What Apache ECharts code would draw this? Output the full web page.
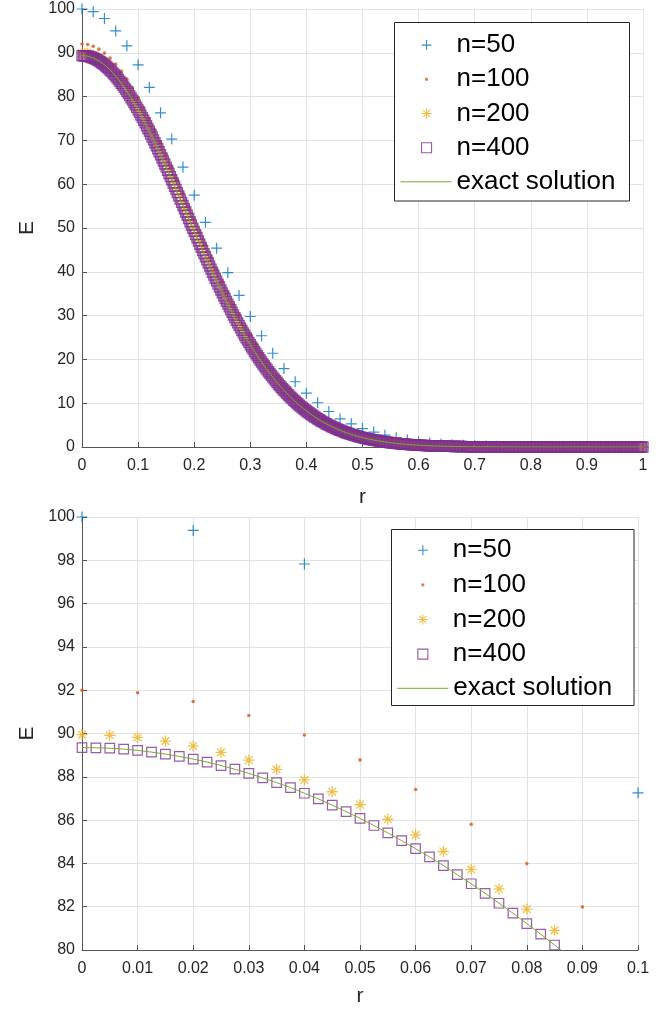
<!DOCTYPE html>
<html><head><meta charset="utf-8">
<script src="https://cdn.jsdelivr.net/npm/echarts@6/dist/echarts.min.js"></script>
<style>html,body{margin:0;padding:0;background:#fff}#c{width:668px;height:1011px}</style>
</head><body><div id="c"></div>
<script>
// grid spacing of each solution (r = i * step)
const n50Step = 0.02, n100Step = 0.01, n200Step = 0.005, n400Step = 0.0025;

const n50E = [
100.0,99.38,97.83,95.0,91.6,87.26,82.1,76.3,70.3,63.9,
57.5,51.3,45.4,39.8,34.6,29.8,25.4,21.4,17.9,14.9,
12.3,10.1,8.1,6.4,5.3,4.2,3.4,2.7,2.1,1.6,
1.2,0.9,0.7,0.5,0.4,0.3,0.2,0.15,0.1,0.08,
0.05,0.03,0.02,0.02,0.01,0.01,0.01,0,0,0,0];

const n100E = [
92.00,91.88,91.48,90.83,89.93,88.78,87.41,85.81,83.99,81.99,
79.80,77.43,74.94,72.32,69.59,66.78,63.89,60.96,57.99,55.02,
52.05,49.10,46.19,43.33,40.52,37.79,35.15,32.60,30.15,27.78,
25.54,23.42,21.41,19.52,17.75,16.09,14.53,13.10,11.77,10.56,
9.43,8.40,7.46,6.62,5.85,5.16,4.52,3.97,3.46,3.01,
2.62,2.27,1.96,1.69,1.45,1.24,1.05,0.90,0.76,0.65,
0.55,0.46,0.39,0.32,0.27,0.22,0.19,0.15,0.13,0.10,
0.09,0.07,0.06,0.05,0.04,0.04,0.03,0.03,0.02,0.02,
0.02,0.01,0.01,0.01,0.01,0.01,0.01,0.01,0.01,0.01,
0,0,0,0,0,0,0,0,0,0,0];

const n200E = [
89.95,89.92,89.82,89.65,89.42,89.13,88.77,88.34,87.86,87.31,
86.71,86.04,85.32,84.55,83.72,82.82,81.89,80.91,79.88,78.79,
77.69,76.52,75.32,74.09,72.83,71.53,70.21,68.85,67.48,66.09,
64.68,63.25,61.81,60.36,58.90,57.42,55.95,54.47,53.00,51.52,
50.05,48.59,47.13,45.69,44.26,42.84,41.43,40.05,38.67,37.32,
35.99,34.68,33.41,32.15,30.91,29.70,28.51,27.35,26.22,25.13,
24.05,23.01,22.00,21.01,20.06,19.13,18.23,17.37,16.53,15.71,
14.94,14.18,13.46,12.76,12.10,11.45,10.83,10.25,9.68,9.14,
8.62,8.13,7.65,7.21,6.77,6.37,5.99,5.61,5.27,4.94,
4.63,4.33,4.04,3.78,3.53,3.29,3.07,2.86,2.66,2.48,
2.30,2.15,1.99,1.84,1.71,1.59,1.47,1.35,1.26,1.16,
1.06,0.99,0.90,0.84,0.77,0.71,0.65,0.59,0.55,0.51,
0.46,0.42,0.39,0.36,0.32,0.29,0.27,0.25,0.23,0.20,
0.18,0.17,0.16,0.14,0.13,0.11,0.10,0.09,0.08,0.08,
0.07,0.06,0.06,0.05,0.05,0.05,0.04,0.04,0.04,0.03,
0.03,0.03,0.03,0.02,0.02,0.02,0.02,0.02,0.02,0.01,
0.01,0.01,0.01,0.01,0.01,0.01,0.01,0.01,0.01,0.01,
0,0,0,0,0,0,0,0,0,0,
0,0,0,0,0,0,0,0,0,0,
0,0,0,0,0,0,0,0,0,0,
0];

const n400E = [
89.35,89.34,89.32,89.28,89.22,89.14,89.05,88.94,88.82,88.68,
88.52,88.35,88.16,87.95,87.73,87.50,87.24,86.98,86.69,86.39,
86.08,85.75,85.41,85.05,84.68,84.30,83.90,83.48,83.06,82.62,
82.16,81.70,81.22,80.73,80.23,79.72,79.19,78.65,78.10,77.54,
76.98,76.40,75.81,75.21,74.60,73.99,73.36,72.73,72.09,71.44,
70.78,70.12,69.45,68.78,68.09,67.41,66.71,66.01,65.31,64.60,
63.89,63.17,62.45,61.73,61.00,60.28,59.54,58.81,58.08,57.34,
56.60,55.86,55.12,54.38,53.64,52.90,52.17,51.43,50.69,49.95,
49.22,48.49,47.76,47.03,46.30,45.58,44.86,44.14,43.43,42.72,
42.01,41.31,40.61,39.91,39.23,38.54,37.86,37.19,36.52,35.85,
35.19,34.54,33.89,33.25,32.62,31.99,31.37,30.75,30.14,29.54,
28.94,28.35,27.77,27.19,26.62,26.06,25.50,24.96,24.42,23.88,
23.36,22.84,22.33,21.82,21.33,20.84,20.36,19.88,19.42,18.96,
18.50,18.06,17.62,17.19,16.77,16.36,15.95,15.55,15.15,14.77,
14.39,14.02,13.65,13.29,12.94,12.60,12.26,11.93,11.61,11.29,
10.98,10.68,10.38,10.09,9.81,9.53,9.26,8.99,8.73,8.48,
8.23,7.98,7.75,7.52,7.29,7.07,6.86,6.65,6.44,6.24,
6.05,5.86,5.68,5.50,5.32,5.15,4.99,4.82,4.67,4.51,
4.37,4.22,4.08,3.94,3.81,3.68,3.56,3.44,3.32,3.20,
3.09,2.99,2.88,2.78,2.68,2.59,2.49,2.40,2.32,2.23,
2.15,2.07,2.00,1.92,1.85,1.78,1.71,1.65,1.59,1.53,
1.47,1.41,1.36,1.30,1.25,1.20,1.16,1.11,1.07,1.02,
0.98,0.94,0.91,0.87,0.83,0.80,0.77,0.73,0.70,0.67,
0.65,0.62,0.59,0.57,0.54,0.52,0.50,0.48,0.46,0.44,
0.42,0.40,0.38,0.36,0.35,0.33,0.32,0.30,0.29,0.28,
0.26,0.25,0.24,0.23,0.22,0.21,0.20,0.19,0.18,0.17,
0.16,0.16,0.15,0.14,0.14,0.13,0.12,0.12,0.11,0.11,
0.10,0.10,0.09,0.09,0.08,0.08,0.07,0.07,0.07,0.06,
0.06,0.06,0.06,0.05,0.05,0.05,0.05,0.04,0.04,0.04,
0.04,0.03,0.03,0.03,0.03,0.03,0.03,0.02,0.02,0.02,
0.02,0.02,0.02,0.02,0.02,0.01,0.01,0.01,0.01,0.01,
0.01,0.01,0.01,0.01,0.01,0.01,0.01,0.01,0.01,0.01,
0.01,0.01,0.01,0.01,0.01,0.01,0.01,0.01,0.01,0.01,
0,0,0,0,0,0,0,0,0,0,
0,0,0,0,0,0,0,0,0,0,
0,0,0,0,0,0,0,0,0,0,
0,0,0,0,0,0,0,0,0,0,
0,0,0,0,0,0,0,0,0,0,
0,0,0,0,0,0,0,0,0,0,
0,0,0,0,0,0,0,0,0,0,
0];
// the exact solution curve, sampled on the finest grid
const exactE = n400E;

// tick labels
const topXTicks = [0,0.1,0.2,0.3,0.4,0.5,0.6,0.7,0.8,0.9,1];
const topYTicks = [0,10,20,30,40,50,60,70,80,90,100];
const botXTicks = [0,0.01,0.02,0.03,0.04,0.05,0.06,0.07,0.08,0.09,0.1];
const botYTicks = [80,82,84,86,88,90,92,94,96,98,100];

const names = ['n=50','n=100','n=200','n=400','exact solution'];
const colors = ['#0072BD','#D95319','#EDB120','#7E2F8E','#77AC30'];

const pts = (arr, step) => arr.map((v, i) => [+(i * step).toFixed(5), v]);
const inBottom = p => p[0] <= botXTicks[botXTicks.length-1] + 1e-9 && p[1] >= botYTicks[0] - 1e-9;

const plusPath = 'path://M0,5L10,5M5,0L5,10';
const starPath = 'path://M0,5L10,5M5,0L5,10M1.46,1.46L8.54,8.54M1.46,8.54L8.54,1.46';
const dotIcon = 'path://M0,0M10,10M3.6,3.6L6.4,3.6L6.4,6.4L3.6,6.4Z';
const lineIcon = 'path://M0,0M51,14M0,7L51,7';

const FONT = 'Liberation Sans';
const axisColor = '#555555';
const labelColor = '#262626';
const gridColor = '#e3e3e3';

function xAxisOf(idx, ticks, gap) {
  return {
    gridIndex: idx, type: 'value',
    min: ticks[0], max: ticks[ticks.length-1], interval: +(ticks[1]-ticks[0]).toFixed(5),
    name: 'r', nameLocation: 'middle', nameGap: gap,
    nameTextStyle: {fontFamily: FONT, fontSize: 21, color: labelColor},
    axisLine: {show: true, onZero: false, lineStyle: {color: axisColor, width: 1}},
    axisTick: {show: true, inside: true, length: 5, lineStyle: {color: axisColor}},
    axisLabel: {fontFamily: FONT, fontSize: 16, color: labelColor, margin: 11},
    splitLine: {show: true, lineStyle: {color: gridColor, width: 1}}
  };
}
function yAxisOf(idx, ticks) {
  return {
    gridIndex: idx, type: 'value',
    min: ticks[0], max: ticks[ticks.length-1], interval: ticks[1]-ticks[0],
    name: 'E', nameLocation: 'middle', nameGap: 44, nameRotate: 90,
    nameTextStyle: {fontFamily: FONT, fontSize: 21, color: labelColor},
    axisLine: {show: true, onZero: false, lineStyle: {color: axisColor, width: 1}},
    axisTick: {show: true, inside: true, length: 5, lineStyle: {color: axisColor}},
    axisLabel: {fontFamily: FONT, fontSize: 16, color: labelColor, margin: 7},
    splitLine: {show: true, lineStyle: {color: gridColor, width: 1}}
  };
}

function seriesFor(idx, filterFn, sqSize, sqWidth) {
  const f = filterFn || (() => true);
  return [
    {name: names[0], type: 'scatter', xAxisIndex: idx, yAxisIndex: idx, clip: false,
     symbol: plusPath, symbolSize: 11,
     itemStyle: {color: 'transparent', borderColor: colors[0], borderWidth: 1.2},
     data: pts(n50E, n50Step).filter(f)},
    {name: names[1], type: 'scatter', xAxisIndex: idx, yAxisIndex: idx, clip: false,
     symbol: 'circle', symbolSize: 3.6,
     itemStyle: {color: colors[1]},
     data: pts(n100E, n100Step).filter(f)},
    {name: names[2], type: 'scatter', xAxisIndex: idx, yAxisIndex: idx, clip: false,
     symbol: starPath, symbolSize: 11,
     itemStyle: {color: 'transparent', borderColor: colors[2], borderWidth: 1.3},
     data: pts(n200E, n200Step).filter(f)},
    {name: names[3], type: 'scatter', xAxisIndex: idx, yAxisIndex: idx, clip: false,
     symbol: 'rect', symbolSize: sqSize,
     itemStyle: {color: 'transparent', borderColor: colors[3], borderWidth: sqWidth},
     data: pts(n400E, n400Step).filter(f)},
    {name: names[4], type: 'line', xAxisIndex: idx, yAxisIndex: idx, clip: true,
     symbol: 'none', showSymbol: false,
     lineStyle: {color: colors[4], width: 1},
     itemStyle: {color: colors[4]},
     data: pts(exactE, n400Step).filter(p => !filterFn || p[0] <= botXTicks[botXTicks.length-1] + 1e-9)}
  ];
}

function legendPair(leftA, topA, leftB, topB, lh) {
  const ts = {fontFamily: FONT, fontSize: 26, color: '#000', lineHeight: lh};
  return [
    {orient: 'vertical', left: leftA, top: topA, padding: 0, itemGap: 0,
     itemWidth: 10, itemHeight: 10, selectedMode: false,
     itemStyle: {borderWidth: 1.1},
     textStyle: Object.assign({}, ts, {padding: [0, 0, 0, 20]}),
     data: [{name: names[0]}, {name: names[1], icon: dotIcon}, {name: names[2]}, {name: names[3]}]},
    {orient: 'vertical', left: leftB, top: topB, padding: 0, itemGap: 0,
     itemWidth: 51, itemHeight: 14, selectedMode: false,
     itemStyle: {color: 'transparent', borderColor: colors[4], borderWidth: 1},
     lineStyle: {color: colors[4], width: 1},
     textStyle: ts,
     data: [{name: names[4], icon: lineIcon}]}
  ];
}

const chart = echarts.init(document.getElementById('c'), null, {renderer: 'canvas'});
chart.setOption({
  animation: false,
  backgroundColor: '#fff',
  textStyle: {fontFamily: FONT},
  grid: [
    {left: 82, top: 9, width: 561, height: 438, outerBoundsMode: 'none', containLabel: false},
    {left: 82, top: 517, width: 556, height: 433, outerBoundsMode: 'none', containLabel: false}
  ],
  xAxis: [xAxisOf(0, topXTicks, 40), xAxisOf(1, botXTicks, 36)],
  yAxis: [yAxisOf(0, topYTicks), yAxisOf(1, botYTicks)],
  legend: legendPair(421, 28, 400, 164.7, 34.2).concat(legendPair(417.3, 533, 396.7, 671, 34.6)),
  graphic: [
    {type: 'rect', z: 3, silent: true, shape: {x: 394.5, y: 22.5, width: 235, height: 178.5},
     style: {fill: '#fff', stroke: '#262626', lineWidth: 1}},
    {type: 'rect', z: 3, silent: true, shape: {x: 391.5, y: 529.5, width: 242.5, height: 176},
     style: {fill: '#fff', stroke: '#262626', lineWidth: 1}}
  ],
  series: seriesFor(0, null, 10, 1.4).concat(seriesFor(1, inBottom, 9.5, 1.2))
});
</script>
</body></html>
